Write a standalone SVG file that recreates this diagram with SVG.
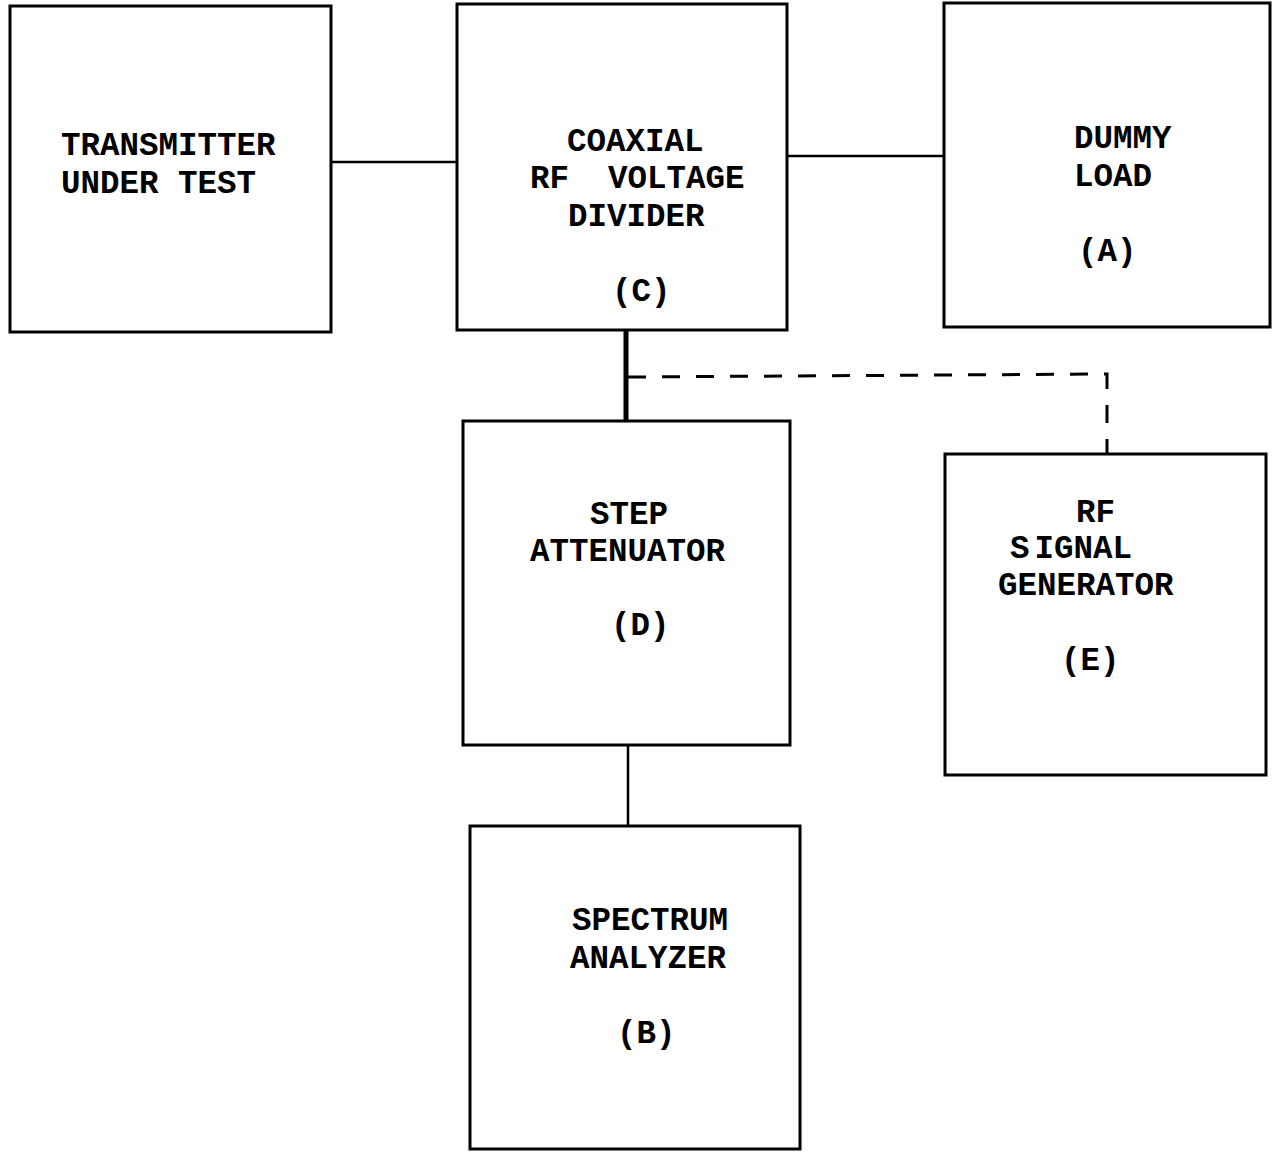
<svg xmlns="http://www.w3.org/2000/svg" width="1273" height="1152" viewBox="0 0 1273 1152">
<style>
.box{fill:none;stroke:#000;stroke-width:3}
.t{font-family:"Liberation Mono","Courier New",monospace;font-weight:bold;font-size:32.5px;fill:#000}
.wire{stroke:#000;stroke-width:2.5;fill:none}
.thick{stroke:#000;stroke-width:5;fill:none}
.dash{stroke:#000;stroke-width:3;fill:none;stroke-dasharray:18 16}
</style>
<rect width="1273" height="1152" fill="#fff"/>
<g id="connectors">
<line class="wire" x1="331" y1="162" x2="457" y2="162"/>
<line class="wire" x1="787" y1="156" x2="944" y2="156"/>
<line class="thick" x1="626" y1="330" x2="626" y2="421"/>
<path class="dash" d="M628 377 L1107 374 L1107 454"/>
<line class="wire" x1="628" y1="745" x2="628" y2="826"/>
</g>
<g id="transmitter">
<rect class="box" x="10" y="6" width="321" height="326"/>
<text class="t" x="61" y="155">TRANSMITTER</text>
<text class="t" x="61" y="193">UNDER TEST</text>
</g>
<g id="coaxial-divider">
<rect class="box" x="457" y="4" width="330" height="326"/>
<text class="t" x="567" y="151">COAXIAL</text>
<text class="t" x="530" y="188" xml:space="preserve">RF  VOLTAGE</text>
<text class="t" x="568" y="226">DIVIDER</text>
<text class="t" x="612" y="301">(C)</text>
</g>
<g id="dummy-load">
<rect class="box" x="944" y="3" width="326" height="324"/>
<text class="t" x="1074" y="148">DUMMY</text>
<text class="t" x="1074" y="186">LOAD</text>
<text class="t" x="1078" y="261">(A)</text>
</g>
<g id="step-attenuator">
<rect class="box" x="463" y="421" width="327" height="324"/>
<text class="t" x="590" y="524">STEP</text>
<text class="t" x="530" y="561">ATTENUATOR</text>
<text class="t" x="611" y="635">(D)</text>
</g>
<g id="rf-signal-generator">
<rect class="box" x="945" y="454" width="321" height="321"/>
<text class="t" x="1076" y="522">RF</text>
<text class="t" x="1010" y="558">S<tspan dx="5">IGNAL</tspan></text>
<text class="t" x="998" y="595">GENERATOR</text>
<text class="t" x="1061" y="670">(E)</text>
</g>
<g id="spectrum-analyzer">
<rect class="box" x="470" y="826" width="330" height="323"/>
<text class="t" x="572" y="930">SPECTRUM</text>
<text class="t" x="570" y="968">ANALYZER</text>
<text class="t" x="617" y="1043">(B)</text>
</g>
</svg>
